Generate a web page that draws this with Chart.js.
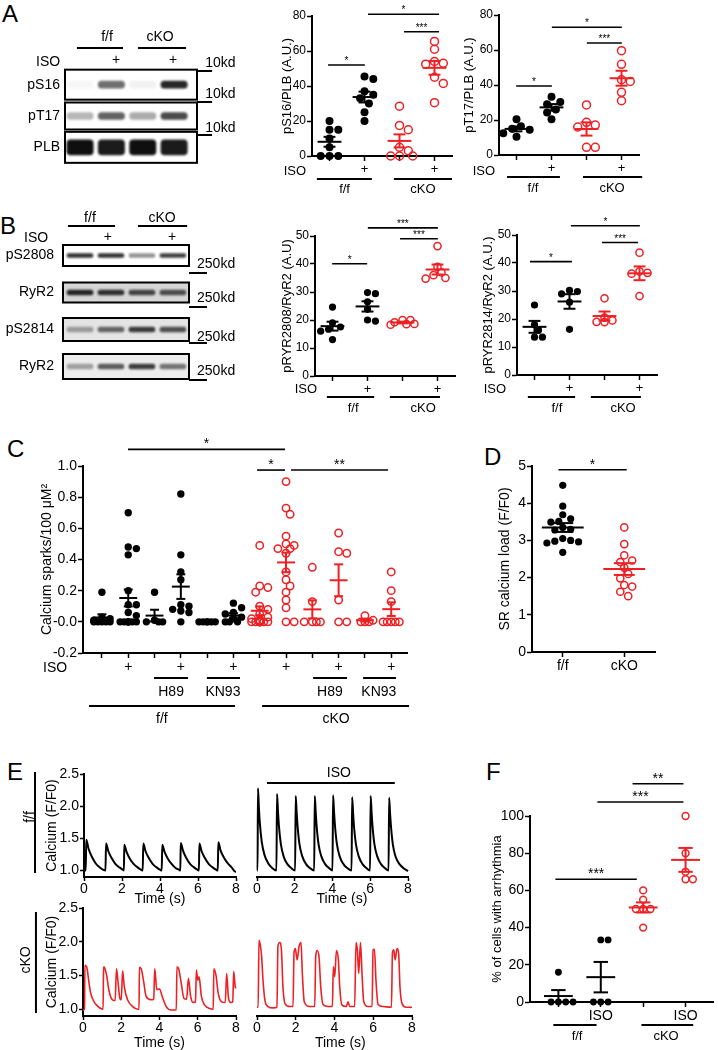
<!DOCTYPE html>
<html>
<head>
<meta charset="utf-8">
<script src="https://cdn.jsdelivr.net/npm/chart.js"></script>
<style>
  body { margin: 0; background: #fff; }
  #fig { position: relative; width: 718px; height: 1050px; overflow: hidden; font-family: "Liberation Sans", Arial, sans-serif; }
  #fig canvas { position: absolute; }
  .lab { position: absolute; font-size: 24px; line-height: 24px; }
</style>
</head>
<body>
<div id="fig">
  <div class="lab" style="left:2px;top:2px">A</div>
  <div class="lab" style="left:0px;top:214px">B</div>
  <div class="lab" style="left:7px;top:437px">C</div>
  <div class="lab" style="left:484px;top:445px">D</div>
  <div class="lab" style="left:7px;top:760px">E</div>
  <div class="lab" style="left:486px;top:760px">F</div>
</div>
<script>
// ---------- data ----------
// groups: f/f, f/f + ISO, cKO, cKO + ISO
const pS16 = [
  [20, 15, 15, 10, 5, 0, 0, 0],
  [45.5, 44, 37, 35, 33, 30, 25, 20],
  [28.5, 17.5, 15, 5, 3, 0, 0, 0],
  [65.5, 61, 54, 53, 52.5, 45, 41.5, 30.5]
];
const pT17 = [
  [20.5, 16.5, 15, 14.5, 12.5, 10.5],
  [33.3, 30.3, 29, 26, 24.3, 20.4],
  [28.6, 18.7, 17.1, 16, 4.4, 4.4],
  [59.6, 51.8, 43, 42, 35.8, 31]
];
const pS2808 = [
  [24.6, 19, 17.5, 16.7, 16, 13],
  [29.8, 29.4, 26.5, 23.8, 20, 19.6],
  [20, 20, 19.2, 18.6, 18.5, 18.3],
  [46.4, 39, 37, 36, 35, 34.8]
];
const pS2814 = [
  [25, 18, 16, 13.5, 13.5],
  [30.2, 29.8, 29, 26, 16.3],
  [27.4, 20.5, 19.5, 19, 18.9],
  [43.7, 37, 36.5, 36.2, 28.2]
];
// sparks: ctrl, ISO, H89, H89+ISO, KN93, KN93+ISO
const sparksFF = [
  [0.19, 0.03, 0.02, 0.01, 0, 0, 0, 0, 0],
  [0.70, 0.48, 0.47, 0.43, 0.20, 0.11, 0.11, 0.06, 0.04, 0, 0, 0, 0, 0, 0, 0, 0],
  [0.19, 0.01, 0, 0, 0],
  [0.82, 0.43, 0.32, 0.27, 0.11, 0.10, 0.08, 0.07, 0.06, 0],
  [0, 0, 0, 0, 0, 0],
  [0.12, 0.09, 0.06, 0.05, 0.03, 0.02, 0, 0, 0]
];
const sparksCKO = [
  [0.49, 0.23, 0.22, 0.19, 0.10, 0.08, 0.05, 0.03, 0.02, 0.01, 0, 0, 0, 0, 0, 0, 0, 0, 0, 0],
  [0.90, 0.73, 0.69, 0.55, 0.50, 0.49, 0.47, 0.47, 0.44, 0.32, 0.27, 0.23, 0.19, 0.14, 0.09, 0, 0],
  [0.35, 0.13, 0, 0, 0, 0],
  [0.57, 0.45, 0.44, 0.14, 0, 0],
  [0.04, 0.01, 0, 0, 0],
  [0.32, 0.20, 0.13, 0, 0, 0, 0, 0]
];
const srLoadFF = [4.48, 3.92, 3.69, 3.58, 3.51, 3.49, 3.35, 3.3, 3.28, 3.05, 3.0, 2.98, 2.96, 2.93, 2.68];
const srLoadCKO = [3.35, 2.9, 2.6, 2.46, 2.42, 2.27, 2.1, 1.98, 1.8, 1.76, 1.62, 1.5];
const arrhythmia = [
  [16, 0, 0, 0, 0],
  [33.4, 33.4, 0, 0, 0],
  [60, 55, 50, 50, 50, 40],
  [100, 80, 70, 66, 66]
];
// western blots: band darkness per lane (f/f, f/f ISO, cKO, cKO ISO)
const blotANames = ['pS16', 'pT17', 'PLB'];
const blotA = [
  [0.03, 0.6, 0.06, 0.9],
  [0.3, 0.65, 0.35, 0.75],
  [1, 0.95, 1, 0.95]
];
const blotBNames = ['pS2808', 'RyR2', 'pS2814', 'RyR2'];
const blotB = [
  [0.85, 0.85, 0.45, 0.8],
  [0.9, 0.85, 0.75, 0.7],
  [0.35, 0.6, 0.8, 0.7],
  [0.35, 0.65, 0.8, 0.55]
];
// calcium transients [time (s), F/F0]
const traceTicks = [1.0, 1.5, 2.0, 2.5];
const ffCtrlTrace = [
  [0, 1.0], [0.09, 1.0], [0.12, 1.48], [0.24, 1.34], [0.42, 1.21], [0.62, 1.11], [0.82, 1.05], [1.02, 1.01], [1.13, 1.0],
  [1.16, 1.42], [1.28, 1.30], [1.46, 1.19], [1.66, 1.10], [1.86, 1.05], [2.06, 1.01], [2.1, 1.0],
  [2.12, 1.40], [2.24, 1.29], [2.42, 1.18], [2.62, 1.10], [2.82, 1.05], [3.02, 1.01], [3.09, 1.0],
  [3.12, 1.42], [3.24, 1.30], [3.42, 1.19], [3.62, 1.10], [3.82, 1.05], [4.02, 1.01], [4.09, 1.0],
  [4.12, 1.40], [4.24, 1.29], [4.42, 1.18], [4.62, 1.10], [4.82, 1.04], [5.02, 1.01], [5.07, 1.0],
  [5.09, 1.43], [5.21, 1.31], [5.39, 1.19], [5.59, 1.10], [5.79, 1.05], [5.99, 1.01], [6.05, 1.0],
  [6.07, 1.42], [6.19, 1.30], [6.37, 1.19], [6.57, 1.10], [6.77, 1.05], [6.97, 1.01], [7.04, 1.0],
  [7.07, 1.44], [7.19, 1.31], [7.37, 1.2], [7.57, 1.11], [7.77, 1.05], [7.97, 0.98], [8.0, 0.98]
];
const ffIsoTrace = [
  [0, 1.0], [0.03, 1.0], [0.05, 2.28], [0.1, 1.98], [0.15, 1.74], [0.25, 1.45], [0.4, 1.24], [0.6, 1.11], [0.8, 1.04], [1.03, 1.0],
  [1.06, 2.19], [1.11, 1.93], [1.16, 1.7], [1.26, 1.42], [1.41, 1.22], [1.61, 1.1], [1.81, 1.04], [2.02, 1.0],
  [2.05, 2.16], [2.1, 1.91], [2.15, 1.69], [2.25, 1.41], [2.4, 1.22], [2.6, 1.1], [2.8, 1.04], [3.03, 1.0],
  [3.06, 2.16], [3.11, 1.91], [3.16, 1.69], [3.26, 1.41], [3.41, 1.22], [3.61, 1.1], [3.81, 1.04], [4.0, 1.0],
  [4.03, 2.17], [4.08, 1.92], [4.13, 1.7], [4.23, 1.42], [4.38, 1.22], [4.58, 1.1], [4.78, 1.04], [5.01, 1.0],
  [5.04, 2.14], [5.09, 1.9], [5.14, 1.68], [5.24, 1.41], [5.39, 1.22], [5.59, 1.1], [5.79, 1.04], [5.99, 1.0],
  [6.02, 2.16], [6.07, 1.91], [6.12, 1.69], [6.22, 1.41], [6.37, 1.22], [6.57, 1.1], [6.77, 1.04], [6.97, 1.0],
  [7.0, 2.13], [7.05, 1.89], [7.1, 1.68], [7.2, 1.4], [7.35, 1.21], [7.55, 1.1], [7.75, 1.04], [8.0, 0.99]
];
const ckoCtrlTrace = [
  [0, 0.99], [0.08, 1.0], [0.1, 1.65], [0.19, 1.63], [0.32, 1.38], [0.4, 1.24], [0.58, 1.11], [0.75, 1.05], [0.93, 1.01], [1.05, 1.0],
  [1.07, 1.5], [1.1, 1.63], [1.23, 1.51], [1.37, 1.26], [1.54, 1.14], [1.68, 1.13],
  [1.75, 1.6], [1.84, 1.38], [1.93, 1.16], [2.0, 1.14],
  [2.07, 1.57], [2.16, 1.33], [2.33, 1.14], [2.6, 1.04], [2.86, 1.0], [2.93, 1.0],
  [2.95, 1.62], [3.04, 1.6], [3.16, 1.43], [3.3, 1.19], [3.56, 1.14], [3.7, 1.15],
  [3.75, 1.6], [3.86, 1.29], [4.0, 1.3], [4.14, 1.19], [4.35, 1.04], [4.61, 0.99], [4.88, 0.99],
  [4.91, 1.63], [5.0, 1.6], [5.14, 1.38], [5.28, 1.16], [5.42, 1.15],
  [5.51, 1.46], [5.63, 1.19], [5.75, 1.1], [5.88, 1.11],
  [5.93, 1.58], [6.0, 1.43], [6.07, 1.48], [6.19, 1.19], [6.37, 1.06], [6.63, 1.01], [6.81, 1.0],
  [6.84, 1.6], [6.95, 1.51], [7.07, 1.24], [7.25, 1.11], [7.44, 1.1],
  [7.51, 1.53], [7.61, 1.16], [7.72, 1.1], [7.83, 1.11],
  [7.88, 1.56], [7.96, 1.33], [8.0, 1.31]
];
const ckoIsoTrace = [
  [0, 1.03], [0.06, 1.03], [0.1, 2.02], [0.17, 1.95], [0.24, 1.78], [0.31, 1.43], [0.41, 1.13], [0.57, 1.04], [0.83, 1.02], [1.03, 1.03],
  [1.08, 1.93], [1.17, 1.99], [1.26, 1.88], [1.34, 1.33], [1.45, 1.08], [1.69, 1.04], [1.86, 1.04],
  [1.91, 1.83], [1.98, 1.9], [2.07, 1.73], [2.17, 1.93], [2.27, 1.99], [2.34, 1.53], [2.44, 1.11], [2.72, 1.04], [2.98, 1.04],
  [3.03, 1.78], [3.1, 1.87], [3.2, 1.78], [3.29, 1.33], [3.41, 1.07], [3.67, 1.04], [3.89, 1.04],
  [3.94, 1.63], [4.01, 1.48], [4.1, 1.87], [4.2, 1.73], [4.27, 1.33], [4.39, 1.06], [4.61, 1.04], [4.7, 1.11], [4.78, 1.04], [5.04, 1.04],
  [5.11, 1.99], [5.18, 1.88], [5.25, 1.53], [5.34, 1.99], [5.42, 1.53], [5.51, 1.11], [5.73, 1.04], [5.94, 1.04],
  [5.99, 1.88], [6.06, 1.89], [6.14, 1.43], [6.25, 1.07], [6.51, 1.04], [6.94, 1.03],
  [6.99, 1.83], [7.06, 1.88], [7.13, 1.73], [7.23, 1.9], [7.31, 1.83], [7.38, 1.33], [7.49, 1.08], [7.71, 1.03], [8.0, 1.03]
];

// ---------- helpers ----------
Chart.defaults.font.family = '"Liberation Sans", Arial, sans-serif';
Chart.defaults.color = '#000';
const RED = '#ed2024';

function place(box) {
  const c = document.createElement('canvas');
  c.width = box.w;
  c.height = box.h;
  Object.assign(c.style, { left: box.left + 'px', top: box.top + 'px', width: box.w + 'px', height: box.h + 'px' });
  document.getElementById('fig').appendChild(c);
  return c;
}

function pad(box, area, yw, xh) {
  return {
    left: area.l - box.left - yw,
    top: area.t - box.top,
    right: box.left + box.w - area.r,
    bottom: box.top + box.h - area.b - xh
  };
}

// deterministic beeswarm so that dots with equal values sit side by side
function swarm(values, x, pxX, pxY, r, maxOff) {
  const placed = [], out = [];
  const order = values.map((v, i) => i).sort((a, b) => values[b] - values[a]);
  const cands = [0];
  for (let k = 1; k * r * 1.1 <= maxOff; k++) cands.push(k * r * 1.1, -k * r * 1.1);
  order.forEach(i => {
    const py = values[i] * pxY;
    let best = 0, bestD = -1;
    for (const off of cands) {
      const dist = placed.reduce((m, q) => Math.min(m, Math.hypot(q[0] - off, q[1] - py)), Infinity);
      if (dist >= 1.9 * r) { best = off; break; }
      if (dist > bestD) { bestD = dist; best = off; }
    }
    placed.push([best, py]);
    out[i] = { x: x + best / pxX, y: values[i] };
  });
  return out;
}

// mean/SEM, significance bars, labels, blot frames
const decor = {
  id: 'decor',
  beforeDatasetsDraw(chart) {
    const d = chart.canvas.$decor;
    if (!d || !d.frames) return;
    const ctx = chart.ctx, a = chart.chartArea, ys = chart.scales.y;
    d.frames.forEach((f, i) => {
      ctx.fillStyle = f.bg;
      ctx.fillRect(a.left, ys.getPixelForValue(i) - f.h / 2, a.right - a.left, f.h);
    });
    ctx.save();
    ctx.filter = 'blur(0.9px)';
  },
  afterDatasetsDraw(chart) {
    const d = chart.canvas.$decor;
    if (!d) return;
    const ctx = chart.ctx, a = chart.chartArea;
    const xs = chart.scales.x, ys = chart.scales.y;
    const X = v => xs.getPixelForValue(v), Y = v => ys.getPixelForValue(v), P = v => v - d.top;
    const seg = (x1, y1, x2, y2) => { ctx.beginPath(); ctx.moveTo(x1, y1); ctx.lineTo(x2, y2); ctx.stroke(); };
    if (d.frames) {
      ctx.restore();
      ctx.save();
      ctx.strokeStyle = '#000';
      ctx.lineWidth = 2;
      d.frames.forEach((f, i) => ctx.strokeRect(a.left, Y(i) - f.h / 2, a.right - a.left, f.h));
      ctx.restore();
    }
    ctx.save();
    (d.stats || []).forEach(g => {
      const n = g.v.length;
      const m = g.v.reduce((s, v) => s + v, 0) / n;
      const sd = Math.sqrt(g.v.reduce((s, v) => s + (v - m) * (v - m), 0) / (n - 1));
      const se = sd / Math.sqrt(n);
      ctx.strokeStyle = g.c;
      ctx.lineWidth = 2;
      seg(X(g.x - 0.34), Y(m), X(g.x + 0.34), Y(m));
      seg(X(g.x), Y(m - se), X(g.x), Y(m + se));
      seg(X(g.x - 0.17), Y(m + se), X(g.x + 0.17), Y(m + se));
      seg(X(g.x - 0.17), Y(m - se), X(g.x + 0.17), Y(m - se));
    });
    ctx.strokeStyle = '#000';
    ctx.fillStyle = '#000';
    ctx.lineWidth = 1.6;
    (d.sig || []).forEach(s => {
      seg(X(s.x1), Y(s.y), X(s.x2), Y(s.y));
      ctx.font = d.sf + 'px "Liberation Sans", Arial, sans-serif';
      ctx.textAlign = 'center';
      ctx.textBaseline = 'alphabetic';
      ctx.fillText(s.t, (X(s.x1) + X(s.x2)) / 2, Y(s.y) - 1);
    });
    ctx.lineWidth = 2;
    (d.lines || []).forEach(l => seg(X(l[0]), P(l[1]), X(l[2]), P(l[3])));
    (d.texts || []).forEach(t => {
      ctx.save();
      ctx.font = (t[3] || d.fs) + 'px "Liberation Sans", Arial, sans-serif';
      ctx.textAlign = t[5] || 'center';
      ctx.textBaseline = 'middle';
      ctx.translate(X(t[1]), P(t[2]));
      if (t[4]) ctx.rotate(t[4] * Math.PI / 180);
      ctx.fillText(t[0], 0, 0);
      ctx.restore();
    });
    ctx.restore();
  }
};

const axisLine = { color: '#000', width: 2 };
const tickGrid = len => ({ drawOnChartArea: false, tickLength: len, tickWidth: 1.5, tickColor: '#000' });

function isoGroups(data) {
  return data.map((v, i) => ({ x: i + 1, v, c: i < 2 ? '#000' : RED, fill: i < 2 }));
}

function dotPlot(p) {
  const pxX = (p.area.r - p.area.l) / (p.x[1] - p.x[0]);
  const pxY = (p.area.b - p.area.t) / (p.y[1] - p.y[0]);
  const canvas = place(p.box);
  canvas.$decor = { top: p.box.top, stats: p.groups, sig: p.sig, sf: p.sf, lines: p.lines, texts: p.texts, fs: p.lfs || p.fs };
  new Chart(canvas, {
    type: 'scatter',
    data: {
      datasets: p.groups.map(g => ({
        data: swarm(g.v, g.x, pxX, pxY, p.r, 0.42 * pxX),
        pointRadius: p.r,
        pointHoverRadius: p.r,
        backgroundColor: g.fill ? g.c : 'rgba(0,0,0,0)',
        borderColor: g.c,
        borderWidth: g.fill ? 0 : 1.5,
        clip: false
      }))
    },
    options: {
      responsive: false,
      animation: false,
      events: [],
      layout: { padding: pad(p.box, p.area, p.yw, p.xh) },
      plugins: { legend: { display: false }, tooltip: { enabled: false } },
      scales: {
        x: {
          type: 'linear', min: p.x[0], max: p.x[1],
          afterFit: s => { s.height = p.xh; },
          afterBuildTicks: s => { s.ticks = p.groups.map(g => ({ value: g.x })); },
          grid: tickGrid(5),
          border: axisLine,
          ticks: { padding: 1, font: { size: p.lfs || p.fs }, maxRotation: 0, autoSkip: false, callback: (v, i) => p.xLabels[i] }
        },
        y: {
          min: p.y[0], max: p.y[1],
          afterFit: s => { s.width = p.yw; },
          grid: tickGrid(5),
          border: axisLine,
          ticks: { stepSize: p.y[2], padding: 1, font: { size: p.fs } },
          title: { display: true, text: p.title, padding: 0, font: { size: p.tfs } }
        }
      }
    },
    plugins: [decor]
  });
}

function blot(p) {
  const canvas = place(p.box);
  canvas.$decor = { top: p.box.top, frames: p.frames, texts: p.texts, lines: p.lines, fs: 14 };
  new Chart(canvas, {
    type: 'bar',
    data: {
      datasets: p.rows.map((row, r) => ({
        data: row.map((v, lane) => ({ x: [lane + 1 - 0.42, lane + 1 + 0.42], y: r })),
        backgroundColor: row.map(v => 'rgba(15,15,15,' + v + ')'),
        barThickness: p.thick[r],
        grouped: false,
        borderRadius: 4,
        borderSkipped: false
      }))
    },
    options: {
      indexAxis: 'y',
      responsive: false,
      animation: false,
      events: [],
      layout: { padding: pad(p.box, p.area, p.yw, 0) },
      plugins: { legend: { display: false }, tooltip: { enabled: false } },
      scales: {
        x: { type: 'linear', display: false, offset: false, min: p.x[0], max: p.x[1] },
        y: {
          type: 'linear', reverse: true, offset: false, min: -0.5, max: p.names.length - 0.5,
          afterFit: s => { s.width = p.yw; },
          afterBuildTicks: s => { s.ticks = p.names.map((n, i) => ({ value: i })); },
          grid: { display: false, drawTicks: false, offset: false },
          border: { display: false },
          ticks: { padding: p.tp, font: { size: 14 }, callback: (v, i) => p.names[i] }
        }
      }
    },
    plugins: [decor]
  });
}

function tracePlot(p) {
  const canvas = place(p.box);
  canvas.$decor = { top: p.box.top, texts: p.texts, lines: p.lines, fs: 14 };
  new Chart(canvas, {
    type: 'scatter',
    data: {
      datasets: [{
        data: p.trace.map(([x, y]) => ({ x, y })),
        showLine: true,
        pointRadius: 0,
        borderColor: p.c,
        borderWidth: p.lw,
        cubicInterpolationMode: 'monotone',
        clip: false
      }]
    },
    options: {
      responsive: false,
      animation: false,
      events: [],
      layout: { padding: pad(p.box, p.area, p.yAxis ? p.yw : 0, 22) },
      plugins: { legend: { display: false }, tooltip: { enabled: false } },
      scales: {
        x: {
          type: 'linear', min: 0, max: 8,
          afterFit: s => { s.height = 22; },
          grid: tickGrid(4),
          border: axisLine,
          ticks: { stepSize: 2, padding: 0, font: { size: 14 }, maxRotation: 0 }
        },
        y: {
          display: p.yAxis, min: 0.9, max: 2.5,
          afterFit: s => { s.width = p.yw; },
          afterBuildTicks: s => { s.ticks = traceTicks.map(v => ({ value: v })); },
          grid: tickGrid(4),
          border: axisLine,
          ticks: { padding: 1, font: { size: 14 }, callback: v => v.toFixed(1) },
          title: { display: true, text: 'Calcium (F/F0)', padding: 0, font: { size: 14 } }
        }
      }
    },
    plugins: [decor]
  });
}

// ---------- panel A ----------
blot({
  box: { left: 0, top: 20, w: 280, h: 168 }, area: { l: 65, t: 69, r: 197, b: 163 },
  x: [0.52, 4.73], yw: 65, tp: 5, names: blotANames, rows: blotA, thick: [7, 7, 15],
  frames: [{ h: 30, bg: '#fff' }, { h: 27, bg: '#fff' }, { h: 31, bg: '#fff' }],
  texts: [['f/f', 1.86, 37], ['cKO', 3.55, 37], ['ISO', -0.02, 62], ['+', 2.15, 60], ['+', 3.97, 60],
    ['10kd', 4.99, 63, 14, 0, 'left'], ['10kd', 4.99, 94, 14, 0, 'left'], ['10kd', 4.99, 128, 14, 0, 'left']],
  lines: [[0.9, 48, 2.37, 48], [2.85, 48, 4.38, 48], [4.73, 71, 5.21, 71], [4.73, 102, 5.21, 102], [4.73, 135, 5.21, 135]]
});

dotPlot({
  box: { left: 276, top: 0, w: 184, h: 196 }, area: { l: 312, t: 16, r: 452, b: 156 },
  x: [0.5, 4.5], y: [0, 80, 20], yw: 32, xh: 22, fs: 12, lfs: 13, tfs: 13, r: 4,
  title: 'pS16/PLB (A.U.)', groups: isoGroups(pS16), xLabels: ['', '+', '', '+'],
  sf: 10, sig: [{ x1: 0.96, x2: 2.01, y: 52, t: '*' }, { x1: 2.1, x2: 4.13, y: 81, t: '*' }, { x1: 3.13, x2: 4.13, y: 71, t: '***' }],
  texts: [['ISO', 0.01, 171], ['f/f', 1.43, 189], ['cKO', 3.67, 189]],
  lines: [[0.64, 179, 2.21, 179], [2.84, 179, 4.5, 179]]
});

dotPlot({
  box: { left: 458, top: 0, w: 192, h: 196 }, area: { l: 499, t: 15, r: 639, b: 155 },
  x: [0.5, 4.5], y: [0, 80, 20], yw: 37, xh: 22, fs: 12, lfs: 13, tfs: 13, r: 4,
  title: 'pT17/PLB (A.U.)', groups: isoGroups(pT17), xLabels: ['', '+', '', '+'],
  sf: 10, sig: [{ x1: 0.99, x2: 2.01, y: 39.4, t: '*' }, { x1: 2.01, x2: 4.01, y: 73, t: '*' }, { x1: 3.01, x2: 4.01, y: 64, t: '***' }],
  texts: [['ISO', 0.07, 171], ['f/f', 1.47, 188], ['cKO', 3.73, 188]],
  lines: [[0.73, 177, 2.24, 177], [2.9, 177, 4.59, 177]]
});

// ---------- panel B ----------
blot({
  box: { left: 0, top: 205, w: 280, h: 210 }, area: { l: 63, t: 237, r: 189, b: 385 },
  x: [0.45, 4.52], yw: 63, tp: 9, names: blotBNames, rows: blotB, thick: [4, 5, 5, 5],
  frames: [{ h: 21, bg: '#fff' }, { h: 20, bg: '#d6d6d6' }, { h: 23, bg: '#e4e4e4' }, { h: 25, bg: '#ededed' }],
  texts: [['f/f', 1.32, 218], ['cKO', 3.65, 218], ['ISO', -0.42, 238], ['+', 1.9, 237], ['+', 3.97, 237],
    ['250kd', 4.78, 264, 14, 0, 'left'], ['250kd', 4.78, 298, 14, 0, 'left'], ['250kd', 4.78, 337, 14, 0, 'left'], ['250kd', 4.78, 371, 14, 0, 'left']],
  lines: [[0.61, 226, 2.13, 226], [2.87, 226, 4.46, 226], [4.52, 273, 5.1, 273], [4.52, 307, 5.1, 307], [4.52, 343, 5.1, 343], [4.52, 380, 5.1, 380]]
});

dotPlot({
  box: { left: 278, top: 215, w: 184, h: 200 }, area: { l: 315, t: 236, r: 455, b: 376 },
  x: [0.5, 4.5], y: [0, 50, 10], yw: 35, xh: 22, fs: 12, lfs: 13, tfs: 13, r: 3.6,
  title: 'pRYR2808/RyR2 (A.U)', groups: isoGroups(pS2808), xLabels: ['', '+', '', '+'],
  sf: 10, sig: [{ x1: 0.99, x2: 1.99, y: 40.1, t: '*' }, { x1: 2.01, x2: 4.01, y: 52.9, t: '***' }, { x1: 2.93, x2: 4.01, y: 49, t: '***' }],
  texts: [['ISO', 0.24, 389], ['f/f', 1.59, 408], ['cKO', 3.59, 408]],
  lines: [[0.84, 397, 2.19, 397], [2.64, 397, 4.07, 397]]
});

dotPlot({
  box: { left: 478, top: 215, w: 185, h: 200 }, area: { l: 517, t: 235, r: 657, b: 375 },
  x: [0.5, 4.5], y: [0, 50, 10], yw: 36, xh: 22, fs: 12, lfs: 13, tfs: 13, r: 3.6,
  title: 'pRYR2814/RyR2 (A.U.)', groups: isoGroups(pS2814), xLabels: ['', '+', '', '+'],
  sf: 10, sig: [{ x1: 0.87, x2: 2.07, y: 40.5, t: '*' }, { x1: 2.04, x2: 4.01, y: 53.3, t: '*' }, { x1: 2.93, x2: 3.96, y: 47.3, t: '***' }],
  texts: [['ISO', -0.13, 389], ['f/f', 1.64, 408], ['cKO', 3.53, 408]],
  lines: [[0.81, 397, 2.16, 397], [2.61, 397, 4.04, 397]]
});

// ---------- panel C ----------
dotPlot({
  box: { left: 5, top: 430, w: 415, h: 300 }, area: { l: 83, t: 466, r: 407, b: 653 },
  x: [0.28, 12.6], y: [-0.2, 1.0, 0.2], yw: 44, xh: 22, fs: 14, tfs: 14, r: 3.7,
  title: 'Calcium sparks/100 \u03bcM\u00b2',
  groups: sparksFF.map((v, i) => ({ x: i + 1, v, c: '#000', fill: true }))
    .concat(sparksCKO.map((v, i) => ({ x: i + 7, v, c: RED, fill: false }))),
  xLabels: ['', '+', '', '+', '', '+', '', '+', '', '+', '', '+'],
  sf: 14, sig: [{ x1: 1.99, x2: 7.96, y: 1.107, t: '*' }, { x1: 6.9, x2: 7.96, y: 0.974, t: '*' }, { x1: 8.19, x2: 11.88, y: 0.974, t: '**' }],
  texts: [['ISO', -0.78, 668], ['H89', 3.63, 692], ['KN93', 5.6, 692], ['H89', 9.67, 692], ['KN93', 11.53, 692], ['f/f', 3.28, 719], ['cKO', 9.9, 719]],
  lines: [[2.98, 678, 4.27, 678], [4.99, 678, 6.25, 678], [9.03, 678, 10.32, 678], [10.93, 678, 12.18, 678], [0.51, 706, 6.06, 706], [7.09, 706, 12.68, 706]]
});

// ---------- panel D ----------
dotPlot({
  box: { left: 490, top: 440, w: 180, h: 240 }, area: { l: 532, t: 466, r: 655, b: 652 },
  x: [0.5, 2.5], y: [0, 5, 1], yw: 35, xh: 22, fs: 14, tfs: 14, r: 3.6,
  title: 'SR calcium load (F/F0)',
  groups: [{ x: 1, v: srLoadFF, c: '#000', fill: true }, { x: 2, v: srLoadCKO, c: RED, fill: false }],
  xLabels: ['f/f', 'cKO'],
  sf: 14, sig: [{ x1: 0.93, x2: 2.04, y: 4.9, t: '*' }],
  texts: [], lines: []
});

// ---------- panel E ----------
tracePlot({
  box: { left: 10, top: 760, w: 235, h: 150 }, area: { l: 84, t: 774, r: 236, b: 877 },
  yAxis: true, yw: 40, trace: ffCtrlTrace, c: '#000', lw: 2,
  texts: [['Time (s)', 4, 899], ['f/f', -2.84, 817, 14, -90]],
  lines: [[-2.58, 772, -2.58, 873]]
});
tracePlot({
  box: { left: 240, top: 760, w: 180, h: 150 }, area: { l: 257, t: 774, r: 408, b: 877 },
  yAxis: false, yw: 0, trace: ffIsoTrace, c: '#000', lw: 2,
  texts: [['Time (s)', 4.5, 899], ['ISO', 4.34, 773]],
  lines: [[0.53, 783, 7.3, 783]]
});
tracePlot({
  box: { left: 10, top: 895, w: 235, h: 155 }, area: { l: 83, t: 908, r: 236, b: 1016 },
  yAxis: true, yw: 39, trace: ckoCtrlTrace, c: RED, lw: 1.6,
  texts: [['Time (s)', 4, 1043], ['cKO', -2.98, 960, 14, -90]],
  lines: [[-2.46, 912, -2.46, 1013]]
});
tracePlot({
  box: { left: 240, top: 895, w: 185, h: 155 }, area: { l: 257, t: 908, r: 412, b: 1016 },
  yAxis: false, yw: 0, trace: ckoIsoTrace, c: RED, lw: 1.6,
  texts: [['Time (s)', 4.3, 1043]],
  lines: []
});

// ---------- panel F ----------
dotPlot({
  box: { left: 485, top: 760, w: 233, h: 290 }, area: { l: 530, t: 816, r: 717, b: 1002 },
  x: [0.33, 4.65], y: [0, 100, 20], yw: 40, xh: 22, fs: 14, tfs: 13, r: 3.4,
  title: '% of cells with arrhythmia', groups: isoGroups(arrhythmia), xLabels: ['', 'ISO', '', 'ISO'],
  sf: 14, sig: [{ x1: 0.93, x2: 2.85, y: 66, t: '***' }, { x1: 1.92, x2: 3.95, y: 107.5, t: '***' }, { x1: 2.75, x2: 3.95, y: 117.3, t: '**' }],
  texts: [['f/f', 1.44, 1036, 13], ['cKO', 3.54, 1036, 13]],
  lines: [[0.88, 1025, 1.9, 1025], [2.96, 1025, 4.18, 1025]]
});
</script>
</body>
</html>
